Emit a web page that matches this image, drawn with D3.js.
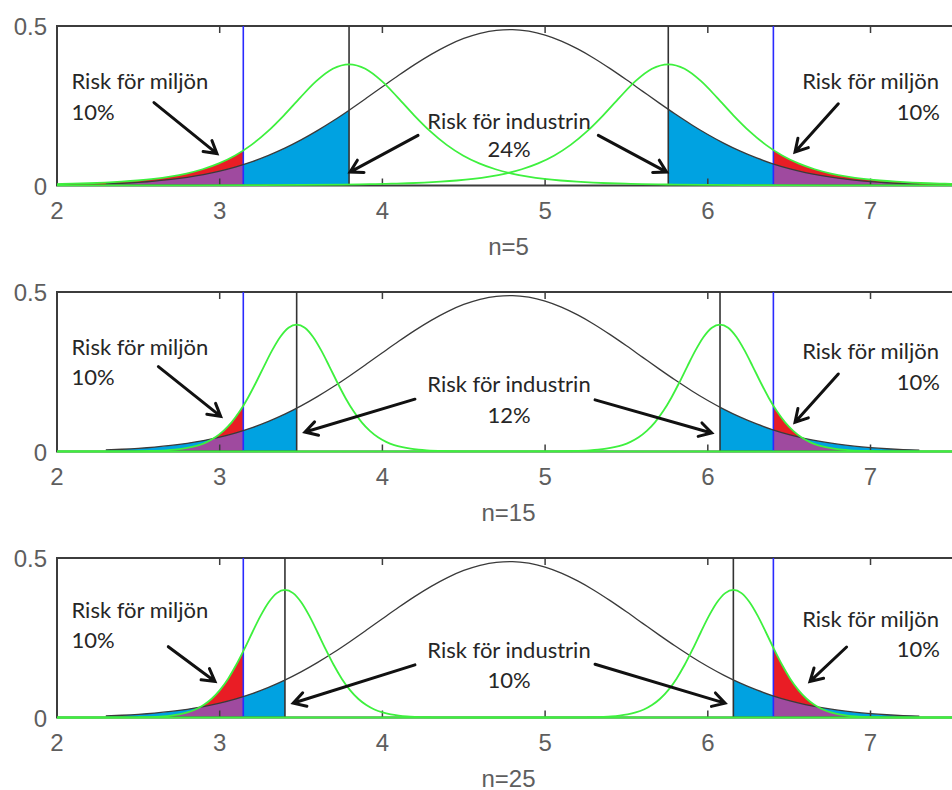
<!DOCTYPE html>
<html lang="sv">
<head>
<meta charset="UTF-8">
<title>Risk för miljön och industrin</title>
<script src="https://cdn.jsdelivr.net/npm/d3@7/dist/d3.min.js"></script>
<style>
  html, body { margin: 0; padding: 0; background: #fff; }
  svg { display: block; }
  .tick-label { font-family: "Liberation Sans", Arial, sans-serif; font-size: 24px; fill: #5e5e5e; }
  .note { font-family: Lato, "Open Sans", sans-serif; font-size: 22px; fill: #262626; }
</style>
</head>
<body>
<div id="chart"></div>
<script>
// ---- data ----
const xTicks = [2, 3, 4, 5, 6, 7];
const yTicks = [0, 0.5];
const sampleSizes = [5, 15, 25];
const industryRisk = ["24%", "12%", "10%"];
const envRisk = ["10%", "10%", "10%"];
const limitLow = 3.145;
const limitHigh = 6.403;
const critLow = [3.795, 3.473, 3.401];
const critHigh = [5.757, 6.075, 6.157];

// black curve (same in all panels)
const blackX = [2.3, 2.4, 2.5, 2.6, 2.7, 2.8, 2.9, 3.0, 3.1, 3.2, 3.3, 3.4, 3.5, 3.6, 3.7, 3.8, 3.9,
  4.0, 4.1, 4.2, 4.3, 4.4, 4.5, 4.6, 4.7, 4.8, 4.9, 5.0, 5.1, 5.2, 5.3, 5.4, 5.5, 5.6, 5.7, 5.8,
  5.9, 6.0, 6.1, 6.2, 6.3, 6.4, 6.5, 6.6, 6.7, 6.8, 6.9, 7.0, 7.1, 7.2, 7.3];
const blackY = [0.0048, 0.0070, 0.0099, 0.0138, 0.0190, 0.0258, 0.0344, 0.0453, 0.0587, 0.0750,
  0.0944, 0.1170, 0.1429, 0.1719, 0.2036, 0.2377, 0.2733, 0.3096, 0.3455, 0.3798, 0.4112, 0.4387,
  0.4609, 0.4772, 0.4866, 0.4888, 0.4837, 0.4715, 0.4527, 0.4282, 0.3991, 0.3663, 0.3313, 0.2951,
  0.2590, 0.2239, 0.1906, 0.1599, 0.1322, 0.1076, 0.0863, 0.0681, 0.0530, 0.0406, 0.0307, 0.0228,
  0.0167, 0.0121, 0.0086, 0.0060, 0.0042];

// green curves: height at offsets from the critical lines
const greenOffsetsWide = [-6, -4, -3, -2.5, -2, -1.9, -1.8, -1.7, -1.6, -1.5, -1.4, -1.3, -1.2, -1.1,
  -1, -0.9, -0.8, -0.7, -0.6, -0.5, -0.4, -0.3, -0.2, -0.1, 0, 0.1, 0.2, 0.3, 0.4, 0.5, 0.6, 0.7,
  0.8, 0.9, 1, 1.1, 1.2, 1.3, 1.4, 1.5, 1.6, 1.7, 1.8, 1.9, 2, 2.5, 3, 4, 6];
const greenValues5 = [0, 0.0001, 0.0005, 0.0011, 0.0028, 0.0035, 0.0044, 0.0056, 0.0071, 0.0092,
  0.0120, 0.0157, 0.0208, 0.0279, 0.0375, 0.0509, 0.0693, 0.0942, 0.1273, 0.1696, 0.2202, 0.2756,
  0.3278, 0.3659, 0.38, 0.3659, 0.3278, 0.2756, 0.2202, 0.1696, 0.1273, 0.0942, 0.0693, 0.0509,
  0.0375, 0.0279, 0.0208, 0.0157, 0.0120, 0.0092, 0.0071, 0.0056, 0.0044, 0.0035, 0.0028, 0.0011,
  0.0005, 0.0001, 0];
const greenOffsetsNarrow = [-6, -1.2, -1, -0.9, -0.8, -0.75, -0.7, -0.65, -0.6, -0.55, -0.5, -0.45,
  -0.4, -0.35, -0.3, -0.25, -0.2, -0.15, -0.1, -0.05, 0, 0.05, 0.1, 0.15, 0.2, 0.25, 0.3, 0.35, 0.4,
  0.45, 0.5, 0.55, 0.6, 0.65, 0.7, 0.75, 0.8, 0.9, 1, 1.2, 6];
const greenValues15 = [0, 0.0001, 0.0006, 0.0015, 0.0037, 0.0057, 0.0087, 0.0134, 0.0202, 0.0303,
  0.0446, 0.0646, 0.0913, 0.1258, 0.1679, 0.2163, 0.2679, 0.3177, 0.3598, 0.3880, 0.398, 0.3880,
  0.3598, 0.3177, 0.2679, 0.2163, 0.1679, 0.1258, 0.0913, 0.0646, 0.0446, 0.0303, 0.0202, 0.0134,
  0.0087, 0.0057, 0.0037, 0.0015, 0.0006, 0.0001, 0];
const greenValues25 = [0, 0, 0.0002, 0.0007, 0.0021, 0.0035, 0.0059, 0.0097, 0.0158, 0.0251,
  0.0390, 0.0587, 0.0858, 0.1210, 0.1644, 0.2142, 0.2673, 0.3184, 0.3612, 0.3899, 0.40, 0.3899,
  0.3612, 0.3184, 0.2673, 0.2142, 0.1644, 0.1210, 0.0858, 0.0587, 0.0390, 0.0251, 0.0158, 0.0097,
  0.0059, 0.0035, 0.0021, 0.0007, 0.0002, 0, 0];
const greenProfiles = [
  { offsets: greenOffsetsWide, values: greenValues5 },
  { offsets: greenOffsetsNarrow, values: greenValues15 },
  { offsets: greenOffsetsNarrow, values: greenValues25 }
];

// annotation placement in data units (per panel)
const envTextY = [[0.301, 0.205], [0.301, 0.209], [0.311, 0.218]];
const envTextYRight = [[0.301, 0.205], [0.290, 0.193], [0.285, 0.191]];
const indTextY = [[0.178, 0.089], [0.185, 0.089], [0.188, 0.092]];
const arrows = [
  [[2.596, 0.260, 2.983, 0.100], [4.219, 0.157, 3.801, 0.042], [5.327, 0.157, 5.747, 0.042], [6.802, 0.256, 6.536, 0.105]],
  [[2.623, 0.266, 3.006, 0.110], [4.200, 0.164, 3.524, 0.061], [5.307, 0.162, 6.024, 0.058], [6.802, 0.243, 6.536, 0.092]],
  [[2.684, 0.222, 2.971, 0.113], [4.200, 0.165, 3.452, 0.045], [5.307, 0.167, 6.106, 0.045], [6.853, 0.221, 6.628, 0.113]]
];

// ---- drawing ----
const W = 952, H = 790;
const panelTops = [26, 292, 558];
const panelH = 159.5;
const BLUE = "#00a2e1", RED = "#e91d25", PURPLE = "#9f4a9f";
const GREEN = "#3ef03e", AXIS = "#3c3c3c";

const svg = d3.select("#chart").append("svg").attr("width", W).attr("height", H);
const defs = svg.append("defs");
const x = d3.scaleLinear().domain([2, 7.55]).range([57, 960]);
const [x0, x1] = x.range();

function drawArrow(g, ax, ay, bx, by) {
  const ang = Math.atan2(by - ay, bx - ax);
  const L = 14, a = Math.PI / 6;
  const p = d3.path();
  p.moveTo(ax, ay); p.lineTo(bx - 2 * Math.cos(ang), by - 2 * Math.sin(ang));
  p.moveTo(bx - L * Math.cos(ang - a), by - L * Math.sin(ang - a));
  p.lineTo(bx, by);
  p.lineTo(bx - L * Math.cos(ang + a), by - L * Math.sin(ang + a));
  g.append("path").attr("d", p.toString())
    .attr("fill", "none").attr("stroke", "#111").attr("stroke-width", 3)
    .attr("stroke-linecap", "round").attr("stroke-linejoin", "miter");
}

sampleSizes.forEach((n, i) => {
  const g = svg.append("g").attr("transform", `translate(0,${panelTops[i]})`);
  const y = d3.scaleLinear().domain([0, 0.5]).range([panelH, 0]);
  const id = s => `p${i}-${s}`;
  const url = s => `url(#${id(s)})`;

  const black = blackX.map((v, j) => [v, blackY[j]]);
  const prof = greenProfiles[i];
  const greenL = prof.offsets.map((o, j) => [critLow[i] + o, prof.values[j]]);
  const greenR = prof.offsets.map((o, j) => [critHigh[i] + o, prof.values[j]]);

  const line = d3.line().x(d => x(d[0])).y(d => y(d[1])).curve(d3.curveMonotoneX);
  const area = d3.area().x(d => x(d[0])).y0(y(0)).y1(d => y(d[1])).curve(d3.curveMonotoneX);

  const clipRect = (name, a, b) => defs.append("clipPath").attr("id", id(name))
    .append("rect").attr("x", a).attr("y", -2).attr("width", b - a).attr("height", panelH + 4);
  clipRect("plot", x0, x1);
  clipRect("blueL", x0, x(critLow[i]));
  clipRect("blueR", x(critHigh[i]), x1);
  clipRect("envL", x0, x(limitLow));
  clipRect("envR", x(limitHigh), x1);
  defs.append("clipPath").attr("id", id("gL")).append("path").attr("d", area(greenL));
  defs.append("clipPath").attr("id", id("gR")).append("path").attr("d", area(greenR));

  // shaded areas
  const fills = g.append("g").attr("clip-path", url("plot"));
  fills.append("path").attr("d", area(black)).attr("fill", BLUE).attr("clip-path", url("blueL"));
  fills.append("path").attr("d", area(black)).attr("fill", BLUE).attr("clip-path", url("blueR"));
  fills.append("path").attr("d", area(greenL)).attr("fill", RED).attr("clip-path", url("envL"));
  fills.append("path").attr("d", area(greenR)).attr("fill", RED).attr("clip-path", url("envR"));
  fills.append("g").attr("clip-path", url("envL"))
    .append("path").attr("d", area(black)).attr("fill", PURPLE).attr("clip-path", url("gL"));
  fills.append("g").attr("clip-path", url("envR"))
    .append("path").attr("d", area(black)).attr("fill", PURPLE).attr("clip-path", url("gR"));

  // frame and ticks
  g.append("rect").attr("x", x0).attr("y", y(0.5)).attr("width", x1 - x0).attr("height", y(0) - y(0.5))
    .attr("fill", "none").attr("stroke", AXIS).attr("stroke-width", 2);
  xTicks.slice(1).forEach(t => {
    g.append("line").attr("x1", x(t)).attr("x2", x(t)).attr("y1", y(0)).attr("y2", y(0) - 7)
      .attr("stroke", AXIS).attr("stroke-width", 1.5);
    g.append("line").attr("x1", x(t)).attr("x2", x(t)).attr("y1", y(0.5)).attr("y2", y(0.5) + 7)
      .attr("stroke", AXIS).attr("stroke-width", 1.5);
  });
  g.selectAll(".xt").data(xTicks).enter().append("text").attr("class", "tick-label")
    .attr("x", d => x(d)).attr("y", y(0) + 33).attr("text-anchor", "middle").text(d => d);
  g.selectAll(".yt").data(yTicks).enter().append("text").attr("class", "tick-label")
    .attr("x", x0 - 10).attr("y", d => y(d) + 9).attr("text-anchor", "end").text(d => d);
  g.append("text").attr("class", "tick-label").attr("x", (x0 + x1) / 2).attr("y", y(0) + 69)
    .attr("text-anchor", "middle").text(`n=${n}`);

  // vertical lines
  const plot = g.append("g").attr("clip-path", url("plot"));
  [limitLow, limitHigh].forEach(v => plot.append("line").attr("x1", x(v)).attr("x2", x(v))
    .attr("y1", y(0)).attr("y2", y(0.5)).attr("stroke", "#2a2aff").attr("stroke-width", 1.6));
  [critLow[i], critHigh[i]].forEach(v => plot.append("line").attr("x1", x(v)).attr("x2", x(v))
    .attr("y1", y(0)).attr("y2", y(0.5)).attr("stroke", "#333").attr("stroke-width", 1.6));

  // curves
  plot.append("path").attr("d", line(black)).attr("fill", "none").attr("stroke", "#3a3a3a").attr("stroke-width", 1.3);
  plot.append("path").attr("d", line(greenL)).attr("fill", "none").attr("stroke", GREEN).attr("stroke-width", 1.8);
  plot.append("path").attr("d", line(greenR)).attr("fill", "none").attr("stroke", GREEN).attr("stroke-width", 1.8);

  // annotations
  const xl = x(2.089), xr = x(7.421), xm = x(4.778);
  g.append("text").attr("class", "note").attr("x", xl).attr("y", y(envTextY[i][0])).text("Risk för miljön");
  g.append("text").attr("class", "note").attr("x", xl).attr("y", y(envTextY[i][1])).text(envRisk[i]);
  g.append("text").attr("class", "note").attr("x", xr).attr("y", y(envTextYRight[i][0])).attr("text-anchor", "end").text("Risk för miljön");
  g.append("text").attr("class", "note").attr("x", xr + 1).attr("y", y(envTextYRight[i][1])).attr("text-anchor", "end").text(envRisk[i]);
  g.append("text").attr("class", "note").attr("x", xm).attr("y", y(indTextY[i][0])).attr("text-anchor", "middle").text("Risk för industrin");
  g.append("text").attr("class", "note").attr("x", xm).attr("y", y(indTextY[i][1])).attr("text-anchor", "middle").text(industryRisk[i]);
  arrows[i].forEach(a => drawArrow(g, x(a[0]), y(a[1]), x(a[2]), y(a[3])));
});
</script>
</body>
</html>
